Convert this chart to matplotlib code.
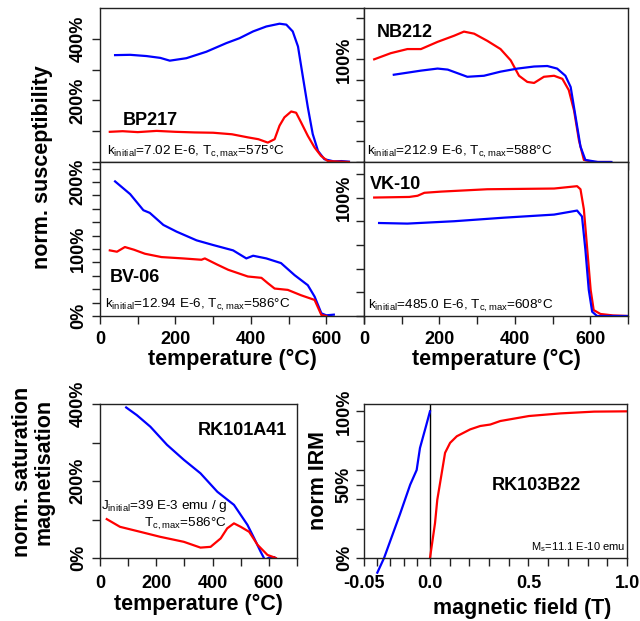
import numpy as np
import matplotlib
matplotlib.use('Agg')
import matplotlib.pyplot as plt

plt.rcParams['font.family'] = ['Liberation Sans', 'DejaVu Sans']
plt.rcParams['mathtext.fontset'] = 'custom'
plt.rcParams['mathtext.rm'] = 'Liberation Sans'
plt.rcParams['mathtext.default'] = 'regular'

# ---- data (temperature in °C, values in %) ----
# BP217
bp217_heat_T = [26, 60, 100, 150, 200, 251, 300, 350, 392, 420, 445, 463, 476, 489, 507, 520, 533, 551, 569, 586, 604, 620, 640, 660]
bp217_heat_v = [98, 100, 97, 101, 98, 96, 95, 90, 80, 74, 63, 74, 118, 145, 164, 160, 129, 85, 47, 20, 3, 2, 1, 0]
bp217_cool_T = [40, 80, 123, 160, 185, 229, 282, 335, 370, 406, 441, 476, 494, 511, 525, 538, 551, 564, 578, 595, 620, 640, 660]
bp217_cool_v = [347, 348, 344, 338, 329, 337, 358, 386, 402, 424, 440, 449, 446, 424, 375, 276, 178, 91, 36, 9, 2, 3, 1]

# BV-06
bv06_heat_T = [26, 45, 66, 90, 119, 163, 220, 269, 278, 310, 340, 392, 428, 445, 463, 498, 533, 569, 587, 600]
bv06_heat_v = [98, 96, 103, 99, 93, 88, 86, 84, 86, 77, 69, 59, 57, 49, 41, 39, 31, 24, 1.5, 0]
bv06_cool_T = [40, 80, 115, 132, 168, 203, 256, 300, 353, 388, 406, 441, 480, 516, 551, 569, 587, 600, 620]
bv06_cool_v = [201, 182, 158, 154, 136, 126, 113, 106, 98, 86, 90, 86, 79, 61, 46, 29, 4, 1, 2]

# NB212
nb212_heat_T = [27, 71, 115, 151, 195, 239, 265, 292, 327, 362, 389, 411, 433, 451, 477, 504, 526, 543, 557, 570, 583, 610, 653]
nb212_heat_v = [100, 106, 110, 110, 117, 123, 127, 125, 118, 110, 99, 84, 78, 77, 83, 84, 81, 70, 50, 21, 2, 0, 0]
nb212_cool_T = [79, 151, 195, 222, 274, 318, 362, 407, 451, 486, 512, 534, 548, 561, 574, 587, 620, 656]
nb212_cool_v = [85, 89, 91, 90, 83, 84, 88, 91, 93, 93.5, 91, 84, 73, 44, 15, 2, 0, 0]

# VK-10
vk10_heat_T = [27, 120, 142, 160, 204, 327, 504, 565, 574, 583, 592, 601, 609, 627, 660, 700]
vk10_heat_v = [100, 100.5, 101.5, 104, 105, 107, 107.6, 109.6, 107, 90, 56, 22, 5, 1.7, 0.5, 0]
vk10_cool_T = [40, 115, 239, 371, 504, 565, 578, 587, 596, 605, 618, 660, 700]
vk10_cool_v = [78.5, 78, 80, 83, 85.6, 89, 84, 56, 22, 3.6, 0, 0, 0]

# RK101A41 (saturation magnetisation)
rk101_heat_T = [24, 71, 143, 214, 298, 357, 393, 429, 452, 476, 500, 530, 560, 595, 625]
rk101_heat_v = [101, 81, 68, 55, 42, 27, 29, 51, 77, 90, 81, 68, 34, 8, 0]
rk101_cool_T = [93, 131, 179, 238, 298, 357, 417, 476, 524, 548, 571, 586, 601, 619]
rk101_cool_v = [391, 371, 341, 294, 255, 220, 172, 138, 86, 51, 16, -5, 1, 2]

# RK103B22 (IRM acquisition / backfield), field in T
rk103_acq_B = [0.0, 0.0255, 0.037, 0.051, 0.0765, 0.102, 0.136, 0.204, 0.255, 0.306, 0.357, 0.502, 0.663, 0.833, 1.0]
rk103_acq_v = [0, 23.8, 39.7, 51, 71.7, 78.5, 83, 87.7, 90, 91, 93.4, 96.8, 98.6, 99.8, 100]
rk103_bf_B = [0.0, -0.003, -0.0076, -0.0101, -0.015, -0.0227, -0.0348, -0.0399]
rk103_bf_v = [100, 90, 75, 60, 50, 30, 0, -10]

W, H = 640, 621
fig = plt.figure(figsize=(W / 100, H / 100), dpi=100)


def box(x0, y0, x1, y1):
    return [x0 / W, 1 - y1 / H, (x1 - x0) / W, (y1 - y0) / H]


ax_bp = fig.add_axes(box(100, 8, 364, 162))
ax_nb = fig.add_axes(box(364, 8, 628, 162))
ax_bv = fig.add_axes(box(100, 162, 364, 316))
ax_vk = fig.add_axes(box(364, 162, 628, 316))
ax_rk1 = fig.add_axes(box(100, 404, 297, 558))
ax_rk2 = fig.add_axes(box(364, 404, 627, 558))

bold = dict(fontweight='bold')


def base(ax, ypad):
    for s in ax.spines.values():
        s.set_linewidth(1)
        s.set_color('#222222')
    ax.tick_params(direction='out', length=5.5, width=1, labelsize=13, color='#222222')
    ax.tick_params(axis='y', pad=ypad)
    ax.tick_params(axis='x', pad=5)


def temp_axis(ax, labels):
    ticks = list(range(0, 701, 100))
    if labels:
        lab = ['0', '', '200', '', '400', '', '600', '']
    else:
        lab = [''] * len(ticks)
    ax.set_xlim(0, 700)
    ax.set_xticks(ticks, lab, **bold)


def y_axis(ax, top, ticks, shown):
    ax.set_ylim(0, top)
    lab = ['%d%%' % t if t in shown else '' for t in ticks]
    ax.set_yticks(ticks, lab, rotation=90, va='center', **bold)


lw = 1.6
# BP217
base(ax_bp, 4)
ax_bp.plot(bp217_cool_T, bp217_cool_v, color='blue', lw=lw)
ax_bp.plot(bp217_heat_T, bp217_heat_v, color='red', lw=lw)
temp_axis(ax_bp, False)
y_axis(ax_bp, 500, [0, 100, 200, 300, 400], [200, 400])
ax_bp.text(0.087, 0.24, 'BP217', transform=ax_bp.transAxes, fontsize=13, **bold)
ax_bp.text(0.027, 0.05, r'k$_{initial}$=7.02 E-6, T$_{c,max}$=575°C',
           transform=ax_bp.transAxes, fontsize=9.7)

# NB212
base(ax_nb, 2.5)
ax_nb.plot(nb212_heat_T, nb212_heat_v, color='red', lw=lw)
ax_nb.plot(nb212_cool_T, nb212_cool_v, color='blue', lw=lw)
temp_axis(ax_nb, False)
y_axis(ax_nb, 150, list(range(0, 141, 20)), [100])
ax_nb.text(0.05, 0.81, 'NB212', transform=ax_nb.transAxes, fontsize=13, **bold)
ax_nb.text(0.011, 0.045, r'k$_{initial}$=212.9 E-6, T$_{c,max}$=588°C',
           transform=ax_nb.transAxes, fontsize=9.7)

# BV-06
base(ax_bv, 4)
ax_bv.plot(bv06_cool_T, bv06_cool_v, color='blue', lw=lw)
ax_bv.plot(bv06_heat_T, bv06_heat_v, color='red', lw=lw)
temp_axis(ax_bv, True)
y_axis(ax_bv, 230, list(range(0, 221, 20)), [0, 100, 200])
ax_bv.text(0.038, 0.22, 'BV-06', transform=ax_bv.transAxes, fontsize=13, **bold)
ax_bv.text(0.019, 0.052, r'k$_{initial}$=12.94 E-6, T$_{c,max}$=586°C',
           transform=ax_bv.transAxes, fontsize=9.7)
ax_bv.set_xlabel('temperature (°C)', fontsize=15.5, labelpad=1, **bold)

# VK-10
base(ax_vk, 2.5)
ax_vk.plot(vk10_heat_T, vk10_heat_v, color='red', lw=lw)
ax_vk.plot(vk10_cool_T, vk10_cool_v, color='blue', lw=lw)
temp_axis(ax_vk, True)
y_axis(ax_vk, 130, list(range(0, 121, 20)), [100])
ax_vk.text(0.023, 0.825, 'VK-10', transform=ax_vk.transAxes, fontsize=13, **bold)
ax_vk.text(0.015, 0.045, r'k$_{initial}$=485.0 E-6, T$_{c,max}$=608°C',
           transform=ax_vk.transAxes, fontsize=9.7)
ax_vk.set_xlabel('temperature (°C)', fontsize=15.5, labelpad=1, **bold)

fig.text(43 / W, 1 - 167 / H, 'norm. susceptibility', rotation=90,
         ha='center', va='center', fontsize=15.5, **bold)

# RK101A41
base(ax_rk1, 4)
ax_rk1.plot(rk101_cool_T, rk101_cool_v, color='blue', lw=lw)
ax_rk1.plot(rk101_heat_T, rk101_heat_v, color='red', lw=lw)
temp_axis(ax_rk1, True)
y_axis(ax_rk1, 400, [0, 100, 200, 300, 400], [0, 200, 400])
ax_rk1.tick_params(axis='x', pad=7)
ax_rk1.text(0.95, 0.80, 'RK101A41', transform=ax_rk1.transAxes, ha='right',
            fontsize=13, **bold)
ax_rk1.text(0.645, 0.318, r'J$_{initial}$=39 E-3 emu / g', transform=ax_rk1.transAxes,
            ha='right', fontsize=9.7)
ax_rk1.text(0.645, 0.20, r'T$_{c,max}$=586°C', transform=ax_rk1.transAxes,
            ha='right', fontsize=9.7)
ax_rk1.set_xlabel('temperature (°C)', fontsize=15.5, labelpad=1, **bold)
fig.text(33 / W, 1 - 472 / H, 'norm. saturation\nmagnetisation', rotation=90,
         ha='center', va='center', fontsize=15.5, linespacing=1.0, **bold)

# RK103B22 with stretched negative field axis
k = 6.7


def fwd(x):
    x = np.asarray(x, dtype=float)
    return np.where(x < 0, x * k, x)


def inv(y):
    y = np.asarray(y, dtype=float)
    return np.where(y < 0, y / k, y)


base(ax_rk2, 2.5)
ax_rk2.set_xscale('function', functions=(fwd, inv))
ax_rk2.set_xlim(-0.05, 1.0)
ax_rk2.set_ylim(0, 105)
ax_rk2.axvline(0, color='black', lw=1)
ax_rk2.plot(rk103_acq_B, rk103_acq_v, color='red', lw=lw)
ax_rk2.plot(rk103_bf_B, rk103_bf_v, color='blue', lw=lw, clip_on=False)
ax_rk2.set_xticks([-0.05, 0.0, 0.5, 1.0], ['-0.05', '0.0', '0.5', '1.0'], **bold)
ax_rk2.set_xticks([-0.04, -0.03, -0.02, -0.01] + [round(0.1 * i, 1) for i in range(1, 10) if i != 5],
                  minor=True)
ax_rk2.tick_params(which='minor', direction='out', length=5.5, width=1, color='#222222')
ax_rk2.set_yticks([0, 50, 100], ['0%', '50%', '100%'], rotation=90, va='center', **bold)
ax_rk2.set_yticks([20, 40, 60, 80], minor=True)
ax_rk2.tick_params(axis='x', pad=7)
ax_rk2.text(0.487, 0.44, 'RK103B22', transform=ax_rk2.transAxes, fontsize=13, **bold)
ax_rk2.text(0.995, 0.05, r'M$_{s}$=11.1 E-10 emu', transform=ax_rk2.transAxes,
            ha='right', fontsize=8)
ax_rk2.text(0.60, -0.26, 'magnetic field (T)', transform=ax_rk2.transAxes,
            ha='center', va='top', fontsize=15.5, **bold)
fig.text(318 / W, 1 - 481 / H, 'norm IRM', rotation=90, ha='center', va='center',
         fontsize=15.5, **bold)

fig.savefig('out.png', dpi=100)
